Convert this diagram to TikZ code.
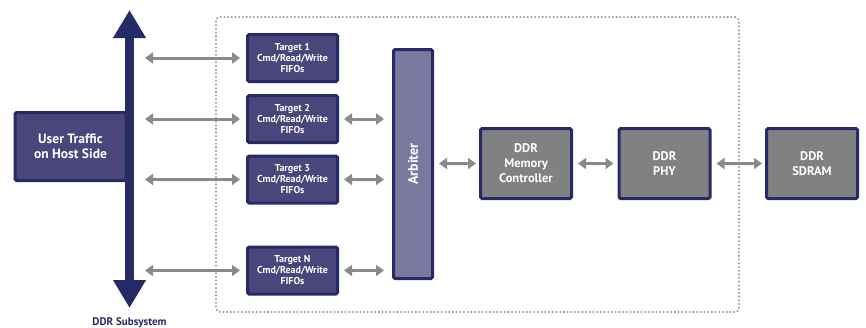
\documentclass[tikz,border=0pt]{standalone}
\usepackage{fontspec}
\setmainfont{PT Sans}
\usetikzlibrary{arrows.meta}
\definecolor{navy}{HTML}{262A65}
\definecolor{tfill}{HTML}{4A467C}
\definecolor{afill}{HTML}{7B789F}
\definecolor{gfill}{HTML}{818184}
\definecolor{agray}{HTML}{8A8A8A}
\definecolor{fgray}{HTML}{9C9CA0}
\tikzset{
  blk/.style={draw=navy, line width=3pt, rounded corners=1.5pt, text=white, font=\bfseries, align=center, inner sep=0pt},
  tbox/.style={blk, fill=tfill, minimum width=90pt, minimum height=47pt, font=\bfseries\fontsize{10}{11}\selectfont},
  gbox/.style={blk, fill=gfill, minimum width=91pt, minimum height=70pt, font=\bfseries\fontsize{12.5}{15}\selectfont},
  garrow/.style={draw=agray, line width=3pt, {Triangle[length=8pt,width=11pt]}-{Triangle[length=8pt,width=11pt]}},
  bus/.style={draw=navy, line width=9pt, {Triangle[length=28pt,width=31pt]}-{Triangle[length=28pt,width=31pt]}},
  frame/.style={draw=fgray, line width=2.3pt, line cap=round, dash pattern=on 0pt off 3.7pt, rounded corners=4pt, inner sep=0pt}
}
\begin{document}
\begin{tikzpicture}[x=1pt,y=-1pt]
\useasboundingbox (0,0) rectangle (866,327);
% frame
\node[frame, minimum width=523pt, minimum height=295pt] (frm) at (477.5,164.5) {};
% host box
\node[blk, fill=tfill, minimum width=111pt, minimum height=68pt, font=\bfseries\fontsize{13.5}{15}\selectfont] (host) at (70.5,146.5) {User Traffic\\on Host Side};
% bus
\coordinate (bustop) at (129.5,10);
\coordinate (busbot) at (129.5,308);
\draw[bus] (bustop) -- (busbot);
\node[font=\bfseries\fontsize{11}{12}\selectfont, text=navy, anchor=base] (sub) at (129.5,325) {DDR Subsystem};
% targets
\node[tbox] (t1) at (292.5,58) {Target 1\\Cmd/Read/Write\\FIFOs};
\node[tbox] (t2) at (292.5,119) {Target 2\\Cmd/Read/Write\\FIFOs};
\node[tbox] (t3) at (292.5,179.5) {Target 3\\Cmd/Read/Write\\FIFOs};
\node[tbox] (tn) at (292.5,270.5) {Target N\\Cmd/Read/Write\\FIFOs};
% arbiter
\node[blk, fill=afill, minimum width=39pt, minimum height=229pt] (arb) at (413,164) {};
\node[rotate=90, text=white, font=\bfseries\fontsize{14}{16}\selectfont] (arbt) at (arb.center) {Arbiter};
% DDR blocks
\node[gbox] (dmc) at (526,163.5) {DDR\\Memory\\Controller};
\node[gbox] (phy) at (664.5,163.5) {DDR\\PHY};
\node[gbox] (sdr) at (812,163.5) {DDR\\SDRAM};
% bus to targets
\foreach \t in {t1,t2,t3,tn}{
  \draw[garrow, shorten <=15.5pt, shorten >=6pt] (\t.west -| bustop) -- (\t.west);
}
% targets to arbiter
\foreach \t in {t2,t3,tn}{
  \draw[garrow, shorten <=5pt, shorten >=8pt] (\t.east) -- (\t.east -| arb.west);
}
\draw[garrow, shorten <=5pt, shorten >=3pt] (arb.east |- dmc.west) -- (dmc.west);
\draw[garrow, shorten <=5pt, shorten >=4pt] (dmc.east) -- (phy.west);
\draw[garrow, shorten <=5pt, shorten >=3pt] (phy.east) -- (sdr.west);
\end{tikzpicture}
\end{document}
